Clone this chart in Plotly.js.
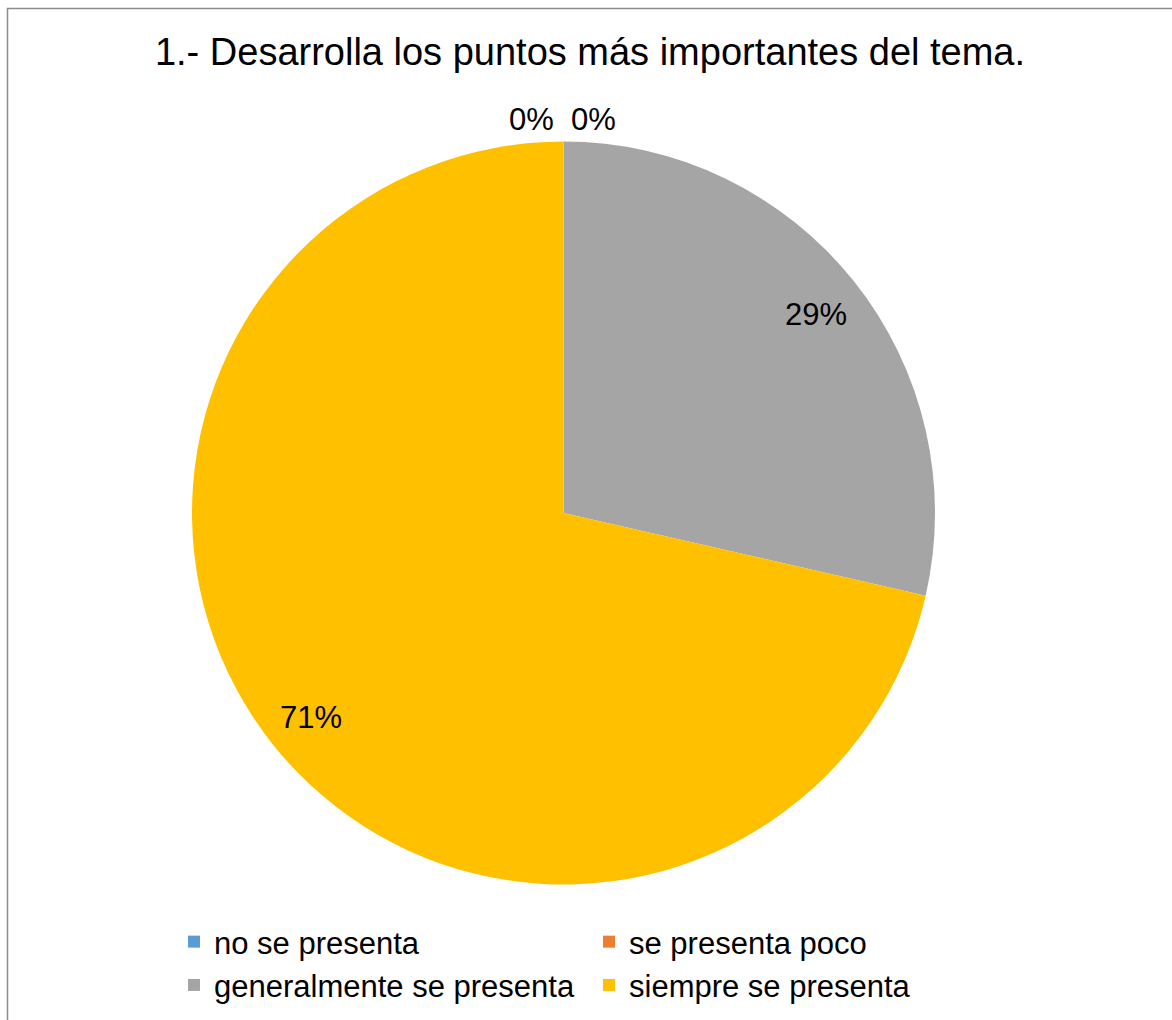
<!DOCTYPE html>
<html>
<head>
<meta charset="utf-8">
<script src="https://cdn.plot.ly/plotly-3.0.1.min.js"></script>
<style>
  html, body { margin: 0; padding: 0; background: #ffffff; }
  #chart { width: 1172px; height: 1020px; }
</style>
</head>
<body>
<div id="chart"></div>
<script>
// ---- data ----
const categories = ["no se presenta", "se presenta poco", "generalmente se presenta", "siempre se presenta"];
const values = [0, 0, 2, 5];
const colors = ["#5B9BD5", "#ED7D31", "#A5A5A5", "#FFC000"];
const chartTitle = "1.- Desarrolla los puntos más importantes del tema.";

// ---- layout constants (pixels) ----
const W = 1172, H = 1020;
const cx = 563.5, cy = 513, R = 371.5;

const total = values.reduce((a, b) => a + b, 0);
const pctText = values.map(v => Math.round(100 * v / total) + "%");

// label annotations derived from slice angles (clockwise from 12 o'clock)
const annotations = [];
let start = 0;
let zeroCount = 0;
values.forEach((v, i) => {
  const frac = v / total;
  const mid = (start + frac / 2) * 2 * Math.PI;
  start += frac;
  let px, py, xanchor = "center";
  if (v === 0) {
    const r = R + 22;
    px = cx + r * Math.sin(mid);
    py = cy - r * Math.cos(mid);
    if (zeroCount === 0) { xanchor = "right"; px -= 8; }
    else { xanchor = "left"; px += 5; }
    zeroCount++;
  } else {
    const r = R * 0.87;
    px = cx + r * Math.sin(mid);
    py = cy - r * Math.cos(mid) + 3;
  }
  annotations.push({
    text: pctText[i],
    xref: "paper", yref: "paper",
    x: px / W, y: 1 - py / H,
    xanchor: xanchor, yanchor: "middle",
    showarrow: false,
    font: { family: "Liberation Sans, Arial, sans-serif", size: 31, color: "#000000" }
  });
});

const trace = {
  type: "pie",
  labels: categories,
  values: values,
  marker: { colors: colors, line: { width: 0 } },
  sort: false,
  direction: "clockwise",
  rotation: 0,
  textinfo: "none",
  hoverinfo: "none",
  domain: { x: [(cx - R) / W, (cx + R) / W], y: [1 - (cy + R) / H, 1 - (cy - R) / H] }
};

const layout = {
  width: W, height: H,
  margin: { l: 0, r: 0, t: 0, b: 0 },
  paper_bgcolor: "#ffffff",
  font: { family: "Liberation Sans, Arial, sans-serif", color: "#000000" },
  title: {
    text: chartTitle,
    font: { family: "Liberation Sans, Arial, sans-serif", size: 38, color: "#000000" },
    x: 590 / W, xanchor: "center", xref: "paper",
    y: 1 - 52 / H, yanchor: "middle", yref: "paper"
  },
  showlegend: true,
  legend: {
    orientation: "h",
    x: 174 / W, xanchor: "left",
    y: 1 - 915 / H, yanchor: "top",
    font: { family: "Liberation Sans, Arial, sans-serif", size: 31, color: "#000000" },
    entrywidth: 370, entrywidthmode: "pixels",
    traceorder: "normal",
    bgcolor: "rgba(0,0,0,0)"
  },
  annotations: annotations,
  shapes: [{
    type: "rect", xref: "paper", yref: "paper",
    x0: 7.5 / W, x1: 1.05, y0: -0.05, y1: 1 - 8.5 / H,
    line: { color: "#8c8c8c", width: 1.5 }, fillcolor: "rgba(0,0,0,0)", layer: "below"
  }]
};

Plotly.newPlot("chart", [trace], layout, { displayModeBar: false, staticPlot: true });
</script>
</body>
</html>
